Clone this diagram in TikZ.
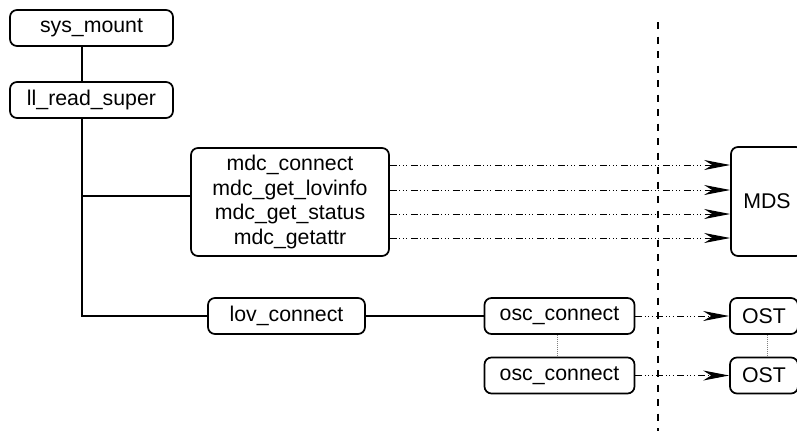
\documentclass[tikz,border=0pt]{standalone}
\usepackage{fontspec}
\setmainfont{Liberation Sans}
\usetikzlibrary{arrows.meta}
\begin{document}
\begin{tikzpicture}[x=1pt,y=-1pt,
 box/.style={draw, rounded corners=7pt, line width=1.7pt, inner sep=0pt, font=\fontsize{21.3}{24.7}\selectfont, align=center},
 link/.style={line width=1.1pt},
 msg/.style={line width=1pt, dash pattern=on 7pt off 2.5pt on 1pt off 2.5pt on 1pt off 2.5pt on 1pt off 3.5pt, -{Stealth[length=26pt,width=10pt,inset=8pt]}},
 peer/.style={line width=1pt, gray, densely dotted},
 split/.style={line width=2pt, dash pattern=on 7pt off 7.5pt}]
\useasboundingbox (0,0) rectangle (797,431);
\clip (0,0) rectangle (797,431);
\node[box, minimum width=163pt, minimum height=36pt] (sys) at (91.5,28) {sys\_mount};
\node[box, minimum width=163pt, minimum height=36pt] (ll) at (91.5,100) {ll\_read\_super};
\node[box, minimum width=198pt, minimum height=108pt] (mdc) at (290,202) {mdc\_connect\\mdc\_get\_lovinfo\\mdc\_get\_status\\mdc\_getattr};
\node[box, minimum width=157pt, minimum height=36pt] (lov) at (286.5,316) {lov\_connect};
\node[box, minimum width=150pt, minimum height=36pt] (osc1) at (559.5,316) {osc\_connect};
\node[box, minimum width=150pt, minimum height=36pt] (osc2) at (559.5,375.5) {osc\_connect};
\node[box, minimum width=72pt, minimum height=109pt] (mds) at (767,201.5) {MDS};
\node[box, minimum width=68pt, minimum height=36pt] (ost1) at (764,316) {OST};
\node[box, minimum width=68pt, minimum height=36pt] (ost2) at (764,375.5) {OST};
\coordinate (t1) at (82,196);
\coordinate (t2) at (82,316);
\coordinate (y1) at (0,165);
\coordinate (y2) at (0,190);
\coordinate (y3) at (0,214);
\coordinate (y4) at (0,238);
\coordinate (ptop) at (658,22);
\coordinate (pbot) at (658,431);
\draw[link] (sys.south -| t1) -- (ll.north -| t1);
\draw[link] (ll.south -| t1) -- (t2) -- (lov.west);
\draw[link] (t1) -- (t1 -| mdc.west);
\draw[link] (lov.east) -- (osc1.west);
\draw[peer] ([xshift=-2.5pt]osc1.south) -- ([xshift=-2.5pt]osc2.north);
\draw[peer] ([xshift=3pt]ost1.south) -- ([xshift=3pt]ost2.north);
\draw[msg] (mdc.east |- y1) -- (mds.west |- y1);
\draw[msg] (mdc.east |- y2) -- (mds.west |- y2);
\draw[msg] (mdc.east |- y3) -- (mds.west |- y3);
\draw[msg] (mdc.east |- y4) -- (mds.west |- y4);
\draw[msg] (osc1.east) -- (ost1.west);
\draw[msg] (osc2.east) -- (ost2.west);
\draw[split] (ptop) -- (pbot);
\end{tikzpicture}
\end{document}
